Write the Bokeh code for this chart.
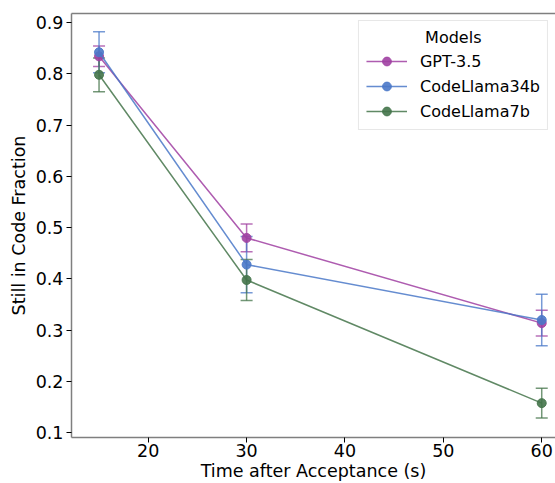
from bokeh.plotting import figure
from bokeh.models import (ColumnDataSource, Whisker, TeeHead, Legend, LegendItem, LinearAxis,
                          FixedTicker, Range1d)
from bokeh.embed import file_html
from bokeh.resources import INLINE

times = [15, 30, 60]
models = ["GPT-3.5", "CodeLlama34b", "CodeLlama7b"]
gpt_vals = [0.834, 0.480, 0.314]
gpt_err = [0.020, 0.027, 0.025]
cl34_vals = [0.842, 0.428, 0.320]
cl34_err = [0.040, 0.055, 0.050]
cl7_vals = [0.798, 0.398, 0.158]
cl7_err = [0.033, 0.040, 0.029]
x_ticks = [20, 30, 40, 50, 60]
y_ticks = [0.1, 0.2, 0.3, 0.4, 0.5, 0.6, 0.7, 0.8, 0.9]

colors = ["#a040a2", "#4a78c8", "#44744a"]
series = [(gpt_vals, gpt_err), (cl34_vals, cl34_err), (cl7_vals, cl7_err)]

p = figure(width=555, height=483, output_backend="svg", toolbar_location=None,
           x_range=Range1d(12.2, 61.4), y_range=Range1d(0.091, 0.9175),
           min_border_left=71, min_border_top=13, min_border_bottom=46, min_border_right=0)
p.background_fill_color = "white"
p.border_fill_color = "white"
p.outline_line_color = None
p.grid.visible = False

FONT = "DejaVu Sans"
FS = "17.5px"
for ax in [p.xaxis[0], p.yaxis[0]]:
    ax.axis_line_color = "#7f7f7f"
    ax.axis_line_width = 1.5
    ax.major_tick_line_color = "black"
    ax.major_tick_out = 5
    ax.major_tick_in = 0
    ax.minor_tick_line_color = None
    ax.major_label_text_font = FONT
    ax.major_label_text_font_size = FS
    ax.major_label_text_color = "black"
    ax.axis_label_text_font = FONT
    ax.axis_label_text_font_size = FS
    ax.axis_label_text_font_style = "normal"
    ax.axis_label_text_color = "black"
p.xaxis[0].ticker = FixedTicker(ticks=x_ticks)
p.yaxis[0].ticker = FixedTicker(ticks=y_ticks)
p.xaxis[0].axis_label = "Time after Acceptance (s)"
p.yaxis[0].axis_label = "Still in Code Fraction"
p.xaxis[0].axis_label_standoff = 1
p.yaxis[0].axis_label_standoff = 4
p.xaxis[0].major_label_standoff = 1
p.yaxis[0].major_label_standoff = 3

top = LinearAxis(major_label_text_font_size="0px", major_tick_line_color=None,
                 minor_tick_line_color=None, axis_line_color="#7f7f7f", axis_line_width=1.5,
                 major_label_standoff=0, major_tick_out=0)
top.ticker = FixedTicker(ticks=[])
p.add_layout(top, "above")

items = []
for name, (vals, errs), c in zip(models, series, colors):
    src = ColumnDataSource(dict(x=times, y=vals,
                                upper=[v + e for v, e in zip(vals, errs)],
                                lower=[v - e for v, e in zip(vals, errs)]))
    w = Whisker(source=src, base="x", upper="upper", lower="lower", dimension="height",
                line_color=c, line_alpha=0.75, line_width=1.5,
                upper_head=TeeHead(size=12, line_color=c, line_alpha=0.75, line_width=1.5),
                lower_head=TeeHead(size=12, line_color=c, line_alpha=0.75, line_width=1.5))
    p.add_layout(w)
    l = p.line("x", "y", source=src, line_color=c, line_width=1.5, line_alpha=0.85)
    s = p.scatter("x", "y", source=src, size=9, fill_color=c, line_color=c,
                  fill_alpha=0.9, line_alpha=0.9)
    items.append(LegendItem(label=name, renderers=[l, s]))

NB = "\u00a0"
LFS = "16px"
legend = Legend(items=items, location="top_right", title=NB * 11 + "\u2009Models",
                title_text_font=FONT, title_text_font_size=LFS, title_text_font_style="normal",
                title_text_color="black", title_standoff=3,
                label_text_font=FONT, label_text_font_size=LFS, label_text_color="black",
                glyph_width=41, glyph_height=22, label_height=22, spacing=3,
                padding=7, margin=7, border_line_color="#d0d0d0", border_line_width=1,
                background_fill_alpha=0.9, label_standoff=13)
p.add_layout(legend)

open("out.html", "w").write(file_html(p, INLINE))
